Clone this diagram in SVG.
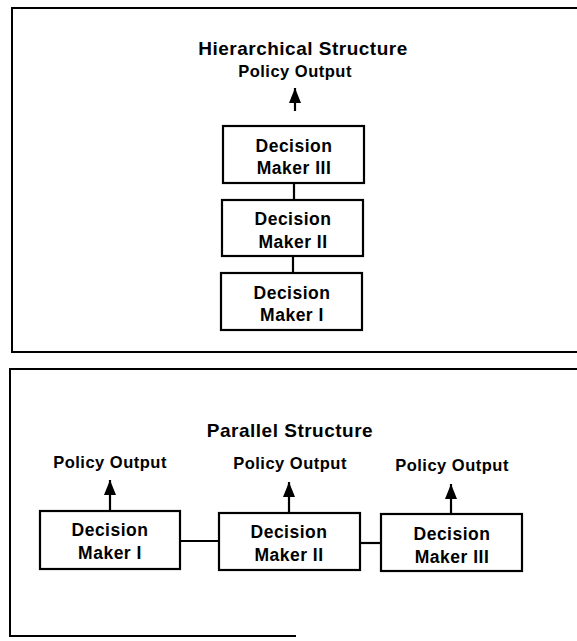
<svg xmlns="http://www.w3.org/2000/svg" width="577" height="641" viewBox="0 0 577 641">
<style>
.frame{fill:none;stroke:#000;stroke-width:2}
.box{fill:#fff;stroke:#000;stroke-width:2.2}
.line{stroke:#000;stroke-width:2.2;fill:none}
.t{font-family:"Liberation Sans",Arial,sans-serif;font-weight:bold;fill:#000;text-anchor:middle}
.title{font-size:19px;letter-spacing:0.5px}
.lbl{font-size:16.5px;letter-spacing:0.5px}
.node{font-size:17.5px;letter-spacing:0.5px}
</style>
<defs>
<marker id="ah" markerWidth="15" markerHeight="12" refX="15" refY="6" orient="auto" markerUnits="userSpaceOnUse" viewBox="0 0 15 12">
<path d="M0 0 L15 6 L0 12 Z" fill="#000"/>
</marker>
</defs>
<rect width="577" height="641" fill="#fff"/>
<path class="frame" d="M577 8 H12 V352 H577"/>
<path class="frame" d="M577 369 H10 V636 H296"/>
<g id="top-labels">
<text class="t title" x="303" y="55">Hierarchical Structure</text>
<text class="t lbl" x="295" y="77">Policy Output</text>
</g>
<g id="h-dm3">
<rect class="box" x="223" y="126" width="141" height="57"/>
<text class="t node" x="294" y="152">Decision</text>
<text class="t node" x="294" y="174">Maker III</text>
</g>
<g id="h-dm2">
<rect class="box" x="222" y="200" width="141" height="56"/>
<text class="t node" x="293" y="225">Decision</text>
<text class="t node" x="293" y="248">Maker II</text>
</g>
<g id="h-dm1">
<rect class="box" x="221" y="273" width="141" height="57"/>
<text class="t node" x="292" y="299">Decision</text>
<text class="t node" x="292" y="321">Maker I</text>
</g>
<g id="bottom-labels">
<text class="t title" x="290" y="437">Parallel Structure</text>
<text class="t lbl" x="110" y="468">Policy Output</text>
<text class="t lbl" x="290" y="469">Policy Output</text>
<text class="t lbl" x="452" y="471">Policy Output</text>
</g>
<g id="p-dm1">
<rect class="box" x="40" y="511" width="140" height="58"/>
<text class="t node" x="110" y="536">Decision</text>
<text class="t node" x="110" y="559">Maker I</text>
</g>
<g id="p-dm2">
<rect class="box" x="219" y="513" width="141" height="57"/>
<text class="t node" x="289" y="538">Decision</text>
<text class="t node" x="289" y="561">Maker II</text>
</g>
<g id="p-dm3">
<rect class="box" x="381" y="514" width="141" height="57"/>
<text class="t node" x="452" y="540">Decision</text>
<text class="t node" x="452" y="563">Maker III</text>
</g>
<g id="connectors">
<line class="line" x1="295" y1="111" x2="295" y2="88" marker-end="url(#ah)"/>
<line class="line" x1="294" y1="183" x2="294" y2="200"/>
<line class="line" x1="293" y1="256" x2="293" y2="273"/>
<line class="line" x1="110" y1="511" x2="110" y2="480" marker-end="url(#ah)"/>
<line class="line" x1="289" y1="513" x2="289" y2="482" marker-end="url(#ah)"/>
<line class="line" x1="451" y1="514" x2="451" y2="484" marker-end="url(#ah)"/>
<line class="line" x1="180" y1="541" x2="219" y2="541"/>
<line class="line" x1="360" y1="543" x2="381" y2="543"/>
</g>
</svg>
